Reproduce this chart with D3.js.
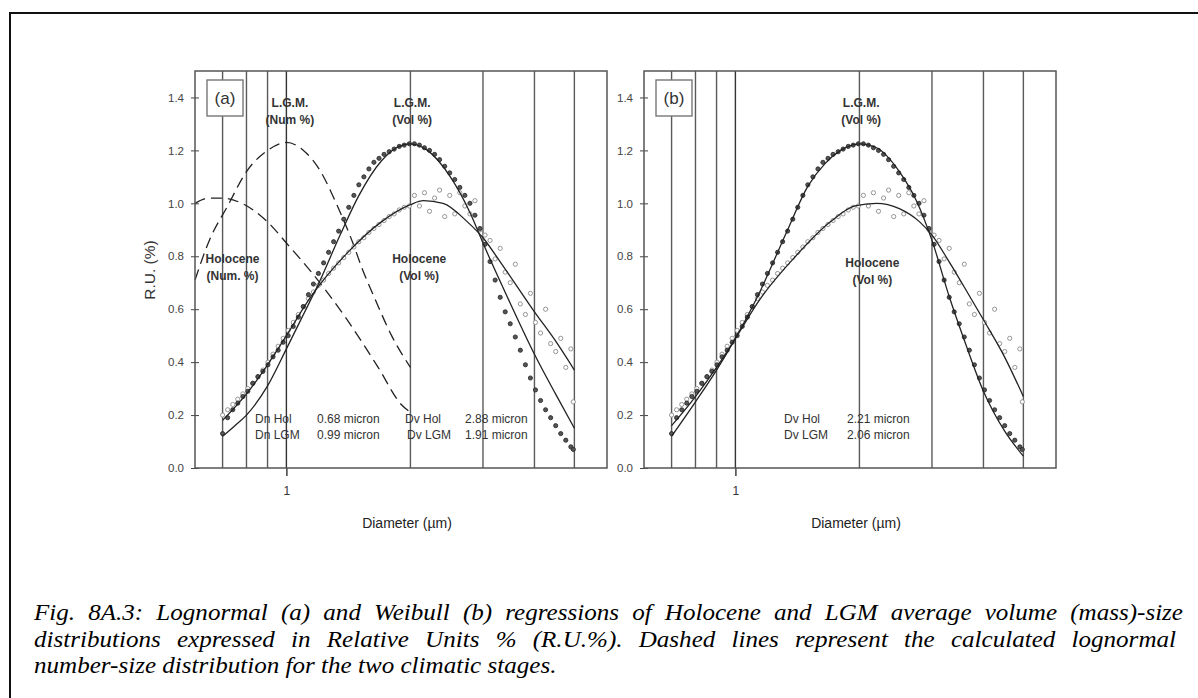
<!DOCTYPE html>
<html><head><meta charset="utf-8">
<script src="https://cdn.jsdelivr.net/npm/d3@7"></script>
<style>body{margin:0;background:#fff}svg{display:block}</style>
</head><body>
<svg id="c" width="1198" height="698"></svg>
<script>
// ---------- data ----------
const diameters = [0.700,0.720,0.741,0.762,0.784,0.806,0.829,0.853,0.877,0.902,0.928,0.955,0.982,1.010,1.039,1.069,1.099,1.131,1.163,1.196,1.231,1.266,1.302,1.339,1.378,1.417,1.458,1.499,1.542,1.586,1.631,1.678,1.726,1.776,1.826,1.879,1.932,1.988,2.045,2.103,2.163,2.225,2.289,2.354,2.422,2.491,2.562,2.636,2.711,2.789,2.868,2.950,3.035,3.121,3.211,3.303,3.397,3.494,3.594,3.697,3.803,3.911,4.023,4.139,4.257,4.379,4.504,4.633,4.766,4.902,4.970];
const lgmVol = [0.13,0.19,0.22,0.245,0.27,0.29,0.32,0.345,0.365,0.39,0.42,0.445,0.475,0.50,0.535,0.57,0.61,0.655,0.695,0.735,0.775,0.815,0.855,0.895,0.94,0.985,1.03,1.07,1.10,1.13,1.155,1.17,1.185,1.195,1.205,1.215,1.22,1.225,1.225,1.22,1.21,1.20,1.185,1.165,1.14,1.115,1.09,1.06,1.03,1.00,0.955,0.905,0.845,0.78,0.71,0.645,0.59,0.545,0.495,0.445,0.39,0.34,0.295,0.255,0.22,0.19,0.16,0.13,0.105,0.08,0.07];
const holVol = [0.20,0.22,0.24,0.26,0.28,0.30,0.32,0.345,0.37,0.40,0.43,0.46,0.49,0.52,0.55,0.58,0.61,0.64,0.665,0.69,0.71,0.735,0.755,0.775,0.795,0.815,0.835,0.855,0.87,0.89,0.905,0.92,0.935,0.95,0.96,0.975,0.985,0.99,1.03,0.99,1.04,0.97,1.02,1.05,0.95,1.03,0.96,1.04,0.99,0.96,1.01,0.90,0.88,0.86,0.79,0.83,0.74,0.70,0.77,0.62,0.58,0.66,0.55,0.51,0.60,0.47,0.44,0.49,0.38,0.45,0.25];

// lognormal fits (panel a)
const lgmFitA_x = [0.7,0.75,0.8,0.9,1.0,1.1,1.2,1.35,1.5,1.7,1.85,2.0,2.2,2.5,2.8,3.0,3.5,4.0,4.5,5.0];
const lgmFitA_y = [0.12,0.16,0.20,0.31,0.45,0.58,0.70,0.88,1.03,1.16,1.21,1.225,1.20,1.10,0.96,0.85,0.62,0.43,0.28,0.15];
const holFitA_x = [0.7,0.8,0.9,1.0,1.15,1.4,1.7,2.0,2.15,2.4,2.75,3.0,3.3,4.0,4.5,5.0];
const holFitA_y = [0.18,0.28,0.39,0.50,0.65,0.81,0.93,0.995,1.01,1.0,0.93,0.87,0.78,0.59,0.48,0.37];
// calculated lognormal number-size distributions (dashed)
const lgmNum_x = [0.6,0.65,0.72,0.8,0.9,1.0,1.1,1.2,1.33,1.45,1.53,1.65,1.8,2.0];
const lgmNum_y = [0.71,0.86,0.99,1.12,1.20,1.23,1.20,1.13,0.99,0.85,0.75,0.63,0.50,0.38];
const holNum_x = [0.6,0.65,0.7,0.78,0.9,1.0,1.15,1.39,1.67,1.9,2.0];
const holNum_y = [1.0,1.02,1.02,1.0,0.93,0.85,0.74,0.57,0.38,0.24,0.21];
// Weibull fits (panel b)
const lgmFitB_x = [0.7,0.8,0.9,1.0,1.15,1.33,1.5,1.65,1.8,2.0,2.2,2.5,2.75,3.0,3.3,3.6,4.0,4.5,5.0];
const lgmFitB_y = [0.12,0.25,0.37,0.49,0.67,0.89,1.065,1.15,1.20,1.225,1.21,1.12,1.01,0.86,0.65,0.48,0.29,0.14,0.045];
const holFitB_x = [0.7,0.8,0.9,1.0,1.15,1.4,1.7,1.95,2.2,2.5,2.8,3.0,3.3,3.7,4.0,4.5,5.0];
const holFitB_y = [0.16,0.27,0.38,0.49,0.64,0.80,0.93,0.99,1.0,0.98,0.93,0.88,0.78,0.65,0.56,0.42,0.27];

const gridDiameters = [0.7,0.8,0.9,1,2,3,4,5];
const yTicks = [0,0.2,0.4,0.6,0.8,1.0,1.2,1.4];
const xTicks = [1];

const captionLines = [
  "Fig. 8A.3: Lognormal (a) and Weibull (b) regressions of Holocene and LGM average volume (mass)-size",
  "distributions expressed in Relative Units % (R.U.%). Dashed lines represent the calculated lognormal",
  "number-size distribution for the two climatic stages."
];

// ---------- drawing ----------
const svg = d3.select('#c');
const SANS = "'Liberation Sans', Arial, sans-serif";
const zip = (xs, ys) => xs.map((x, i) => [x, ys[i]]);

// outer frame (left and top edges visible)
svg.append('path').attr('d', 'M10,698 V13 H1198').attr('fill', 'none').attr('stroke', '#111').attr('stroke-width', 2);

function drawPanel(left, cfg) {
  const top = 71, bottom = 468, width = 412;
  const x = d3.scaleLog().domain([0.6, 6]).range([left, left + width]);
  const y = d3.scaleLinear().domain([0, 1.5]).range([bottom, top]);
  const g = svg.append('g');

  // vertical reference lines
  g.selectAll('line.grid').data(gridDiameters).enter().append('line')
    .attr('x1', d => x(d)).attr('x2', d => x(d)).attr('y1', top).attr('y2', bottom)
    .attr('stroke', d => d === 1 ? '#333' : '#5a5a5a').attr('stroke-width', 1.4);

  // y axis
  const ya = d3.axisLeft(y).tickValues(yTicks).tickFormat(d3.format('.1f')).tickSize(5).tickPadding(5);
  const yg = g.append('g').attr('transform', `translate(${left},0)`).call(ya);
  yg.select('.domain').remove();
  yg.selectAll('line').attr('stroke', '#444').attr('x2', -4).attr('x1', 4);
  yg.selectAll('text').attr('font-family', SANS).attr('font-size', 11.5).attr('fill', '#444').attr('x', -11);

  // x axis
  const xa = d3.axisBottom(x).tickValues(xTicks).tickFormat(d3.format('d')).tickSize(8).tickPadding(10);
  const xg = g.append('g').attr('transform', `translate(0,${bottom})`).call(xa);
  xg.select('.domain').remove();
  xg.selectAll('line').attr('stroke', '#333').attr('stroke-width', 1.4);
  xg.selectAll('text').attr('font-family', SANS).attr('font-size', 12).attr('fill', '#333');

  const line = d3.line().x(d => x(d[0])).y(d => y(d[1])).curve(d3.curveMonotoneX);

  // dashed number curves
  (cfg.dashed || []).forEach(s => {
    g.append('path').attr('d', line(s)).attr('fill', 'none').attr('stroke', '#222')
      .attr('stroke-width', 1.3).attr('stroke-dasharray', '11,6');
  });

  // data points
  g.selectAll('circle.hol').data(zip(diameters, holVol)).enter().append('circle')
    .attr('cx', d => x(d[0])).attr('cy', d => y(d[1])).attr('r', 2.1)
    .attr('fill', '#fff').attr('stroke', '#8a8a8a').attr('stroke-width', 0.9);
  g.selectAll('circle.lgm').data(zip(diameters, lgmVol)).enter().append('circle')
    .attr('cx', d => x(d[0])).attr('cy', d => y(d[1])).attr('r', 2.1)
    .attr('fill', '#555').attr('stroke', '#222').attr('stroke-width', 0.8);

  // fitted curves
  cfg.fits.forEach(s => {
    g.append('path').attr('d', line(s)).attr('fill', 'none').attr('stroke', '#222').attr('stroke-width', 1.3);
  });

  // frame
  g.append('rect').attr('x', left).attr('y', top).attr('width', width).attr('height', bottom - top)
    .attr('fill', 'none').attr('stroke', '#555').attr('stroke-width', 1.5);

  // panel tag
  g.append('rect').attr('x', left + 12).attr('y', top + 9).attr('width', 36).attr('height', 36)
    .attr('fill', '#fff').attr('stroke', '#777').attr('stroke-width', 1.4);
  g.append('text').attr('x', left + 30).attr('y', top + 33).attr('text-anchor', 'middle')
    .attr('font-family', SANS).attr('font-size', 17).attr('fill', '#333').text(cfg.tag);

  // annotations
  cfg.labels.forEach(l => {
    l.lines.forEach((t, i) => {
      g.append('text').attr('x', x(l.d)).attr('y', y(l.v) + i * 17).attr('text-anchor', 'middle')
        .attr('font-family', SANS).attr('font-size', 12).attr('font-weight', 'bold').attr('fill', '#333').text(t);
    });
  });
  cfg.stats.forEach(row => {
    row.cells.forEach(c => {
      g.append('text').attr('x', left + c.dx).attr('y', row.y).attr('font-family', SANS)
        .attr('font-size', 12).attr('fill', '#333').text(c.t);
    });
  });

  // x label
  g.append('text').attr('x', left + 212).attr('y', 528).attr('text-anchor', 'middle')
    .attr('font-family', SANS).attr('font-size', 14).attr('fill', '#222').text('Diameter (\u00b5m)');
  return {x, y};
}

drawPanel(195, {
  tag: '(a)',
  dashed: [zip(lgmNum_x, lgmNum_y), zip(holNum_x, holNum_y)],
  fits: [zip(lgmFitA_x, lgmFitA_y), zip(holFitA_x, holFitA_y)],
  labels: [
    {d: 1.02, v: 1.365, lines: ['L.G.M.', '(Num %)']},
    {d: 2.02, v: 1.365, lines: ['L.G.M.', '(Vol %)']},
    {d: 0.74, v: 0.775, lines: ['Holocene', '(Num. %)']},
    {d: 2.1, v: 0.775, lines: ['Holocene', '(Vol %)']}
  ],
  stats: [
    {y: 423, cells: [{dx: 60, t: 'Dn Hol'}, {dx: 122, t: '0.68 micron'}, {dx: 210, t: 'Dv Hol'}, {dx: 270, t: '2.88 micron'}]},
    {y: 439, cells: [{dx: 60, t: 'Dn LGM'}, {dx: 122, t: '0.99 micron'}, {dx: 212, t: 'Dv LGM'}, {dx: 270, t: '1.91 micron'}]}
  ]
});

drawPanel(644, {
  tag: '(b)',
  dashed: [],
  fits: [zip(lgmFitB_x, lgmFitB_y), zip(holFitB_x, holFitB_y)],
  labels: [
    {d: 2.02, v: 1.365, lines: ['L.G.M.', '(Vol %)']},
    {d: 2.15, v: 0.76, lines: ['Holocene', '(Vol %)']}
  ],
  stats: [
    {y: 423, cells: [{dx: 140, t: 'Dv Hol'}, {dx: 203, t: '2.21 micron'}]},
    {y: 439, cells: [{dx: 140, t: 'Dv LGM'}, {dx: 203, t: '2.06 micron'}]}
  ]
});

// y axis title
svg.append('text').attr('transform', 'translate(155,270) rotate(-90)').attr('text-anchor', 'middle')
  .attr('font-family', SANS).attr('font-size', 15.5).attr('fill', '#333').text('R.U. (%)');

// caption (justified lines)
const SERIF = "'Liberation Serif', 'Times New Roman', serif";
const SX = 1.045;
function captionLine(text, y, width, justify) {
  const words = text.split(' ');
  const t = svg.append('text').attr('transform', `translate(34,${y}) scale(${SX},1)`)
    .attr('font-family', SERIF).attr('font-style', 'italic')
    .attr('font-size', 24).attr('fill', '#000');
  const spans = words.map(w => t.append('tspan').text(w));
  const widths = spans.map(s => s.node().getComputedTextLength());
  const total = d3.sum(widths);
  const space = 6;
  const gap = justify ? (width / SX - total) / (words.length - 1) : space;
  let cx = 0;
  spans.forEach((s, i) => { s.attr('x', cx); cx += widths[i] + gap; });
}
captionLine(captionLines[0], 620, 1149, true);
captionLine(captionLines[1], 647, 1142, true);
captionLine(captionLines[2], 673, 0, false);
</script>
</body></html>
